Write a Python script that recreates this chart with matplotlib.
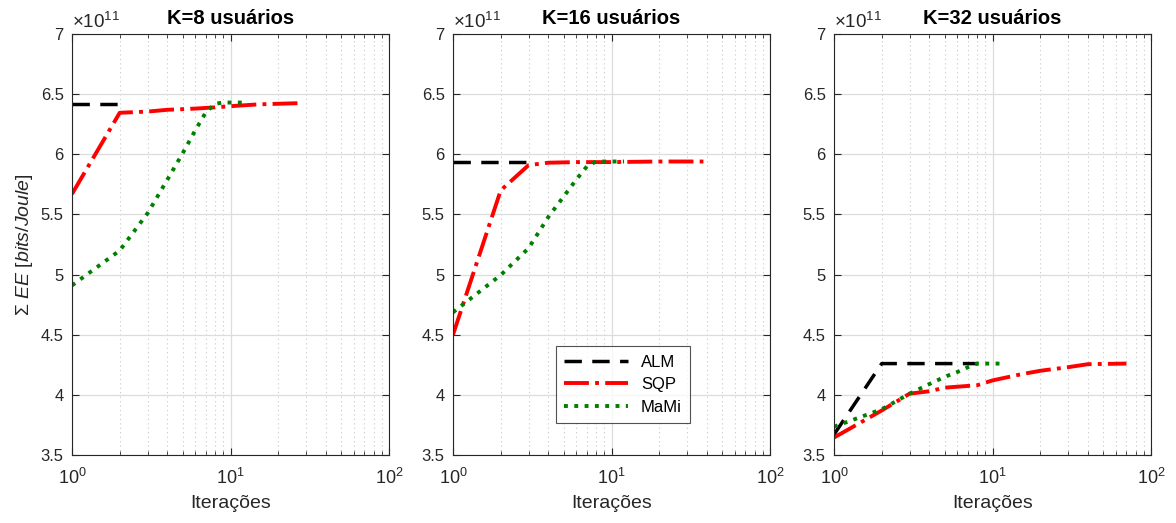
import numpy as np
import matplotlib.pyplot as plt
from matplotlib.ticker import LogLocator, NullFormatter

plt.rcParams['font.family'] = ['Liberation Sans', 'DejaVu Sans']
plt.rcParams['mathtext.fontset'] = 'custom'
plt.rcParams['mathtext.rm'] = 'Liberation Sans'
plt.rcParams['mathtext.it'] = 'Liberation Sans:italic'

# valores em unidades de 1e11 bits/Joule
titulos = ['K=8 usuários', 'K=16 usuários', 'K=32 usuários']

alm_x = [[1, 2], [1, 2, 3], [1, 2, 3, 4, 5, 6, 7, 8]]
alm_y = [[6.42, 6.42], [5.94, 5.94, 5.94],
         [3.67, 4.26, 4.26, 4.26, 4.26, 4.26, 4.26, 4.26]]

sqp_x = [[1, 2, 3, 4, 5, 6, 8, 10, 15, 20, 27],
         [1, 2, 3, 4, 6, 10, 20, 38],
         [1, 2, 3, 4, 5, 8, 10, 15, 20, 30, 40, 70]]
sqp_y = [[5.67, 6.345, 6.355, 6.37, 6.375, 6.38, 6.39, 6.40, 6.415, 6.42, 6.425],
         [4.50, 5.70, 5.91, 5.93, 5.935, 5.935, 5.94, 5.94],
         [3.645, 3.87, 4.01, 4.03, 4.06, 4.08, 4.12, 4.17, 4.20, 4.23, 4.255, 4.26]]

mami_x = [[1, 2, 3, 4, 5, 6, 7, 8, 9, 10, 12],
          [1, 2, 3, 4, 5, 6, 7, 8, 9, 10, 12],
          [1, 2, 3, 4, 5, 6, 7, 8, 9, 10, 12]]
mami_y = [[4.91, 5.20, 5.51, 5.79, 6.01, 6.20, 6.35, 6.42, 6.43, 6.43, 6.43],
          [4.686, 4.996, 5.22, 5.48, 5.65, 5.79, 5.90, 5.94, 5.94, 5.94, 5.94],
          [3.735, 3.88, 4.01, 4.09, 4.15, 4.19, 4.23, 4.26, 4.26, 4.26, 4.26]]

fig = plt.figure(figsize=(11.76, 5.23), dpi=100)
lefts = [72, 453, 834]
for i in range(3):
    ax = fig.add_axes([lefts[i] / 1176, 68 / 523, 317 / 1176, 421 / 523])
    ax.plot(alm_x[i], alm_y[i], '--', color='k', lw=2.5, dashes=(5, 3), label='ALM')
    ax.plot(sqp_x[i], sqp_y[i], '-.', color='r', lw=2.8, label='SQP')
    ax.plot(mami_x[i], mami_y[i], ':', color=(0, 0.5, 0), lw=2.8, label='MaMi')
    ax.set_xscale('log')
    ax.set_xlim(1, 100)
    ax.set_ylim(3.5, 7)
    ax.set_yticks(np.arange(3.5, 7.01, 0.5))
    ax.set_yticklabels(['3.5', '4', '4.5', '5', '5.5', '6', '6.5', '7'])
    ax.xaxis.set_major_locator(LogLocator(base=10, numticks=5))
    ax.xaxis.set_minor_locator(LogLocator(base=10, subs=np.arange(2, 10), numticks=10))
    ax.xaxis.set_minor_formatter(NullFormatter())
    ax.grid(True, which='major', color='#dcdcdc', lw=0.9)
    ax.grid(True, which='minor', axis='x', color='#c8c8c8', lw=0.8, ls=(0, (1, 3)))
    ax.set_axisbelow(True)
    ax.tick_params(which='both', direction='in', top=True, right=True,
                   labelsize=12, colors='#262626', pad=6)
    ax.tick_params(axis='x', which='major', labelsize=13, pad=9)
    ax.tick_params(which='major', length=5)
    ax.tick_params(which='minor', length=3)
    for s in ax.spines.values():
        s.set_color('#262626')
        s.set_linewidth(0.8)
    ax.set_title(titulos[i], fontsize=14.5, fontweight='bold', pad=7)
    ax.set_xlabel('Iterações', fontsize=14, color='#262626', labelpad=5)
    ax.text(0.0, 1.005, r'$\times$10$^{11}$', transform=ax.transAxes,
            fontsize=13.5, color='#262626', va='bottom', ha='left')
    if i == 0:
        ax.set_ylabel(r'$\Sigma$ $\it{EE\ [bits/Joule]}$', fontsize=14,
                      color='#262626', labelpad=4)
    if i == 1:
        leg = ax.legend(loc='lower left', bbox_to_anchor=(0.325, 0.076),
                        borderaxespad=0, fontsize=12, fancybox=False,
                        edgecolor='#262626', handlelength=3.8, borderpad=0.5,
                        labelspacing=0.45)
        leg.get_frame().set_linewidth(0.8)

fig.savefig('out.png', dpi=100)
